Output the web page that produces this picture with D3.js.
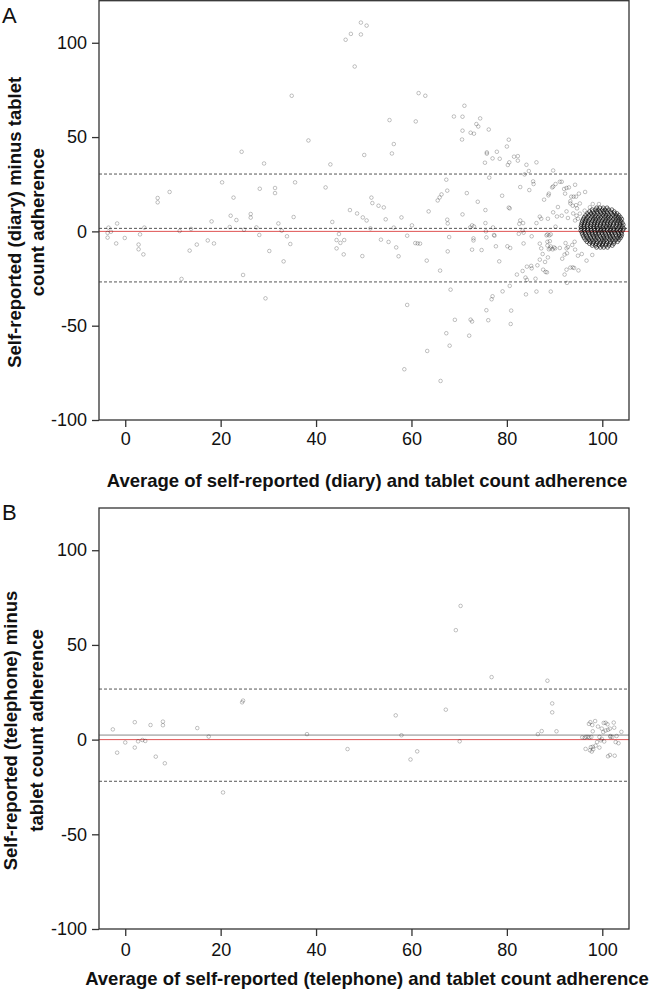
<!DOCTYPE html>
<html><head><meta charset="utf-8">
<script src="https://cdn.jsdelivr.net/npm/d3@7"></script>
<style>body{margin:0;background:#fff} svg{display:block} text{font-family:"Liberation Sans",Arial,Helvetica,sans-serif}</style>
</head><body><svg id="chart" width="650" height="990"></svg>
<script>
const xTicks = [0, 20, 40, 60, 80, 100];
const yTicks = [-100, -50, 0, 50, 100];

// Panel A: [average, difference]
const diaryPts = [
 [-3.5,2.0],[-3.0,-0.2],[-3.7,-0.8],[-3.7,-3.3],[-1.7,4.2],[-1.9,-6.4],[-0.1,-3.5],[2.8,-7.0],[2.8,-9.5],[3.1,-1.6],[3.8,-12.2],[4.0,2.0],
 [6.8,17.7],[6.8,15.4],[9.3,20.9],[11.4,0.2],[11.8,-25.2],[13.5,-10.2],[13.8,1.3],[15.0,-7.0],[17.3,-4.8],[18.6,-6.4],[18.1,5.3],[20.3,26.0],
 [21.9,2.3],[22.1,8.3],[22.7,17.9],[23.3,6.0],[24.4,42.2],[24.7,-23.1],[24.9,0.9],[26.3,9.2],[26.3,7.3],[27.5,2.1],[28.1,-1.9],[28.2,22.6],
 [29.1,36.0],[29.4,-35.5],[30.2,-10.4],[31.4,23.0],[31.4,20.3],[32.1,4.2],[32.8,0.4],[33.2,-15.9],[33.9,-2.6],[34.6,-6.7],[34.9,71.9],[35.3,7.6],
 [35.6,26.0],[38.4,48.2],[42.0,23.3],[43.0,35.5],[43.4,5.0],[44.8,-1.4],[44.3,-4.6],[45.1,-6.1],[45.9,-4.6],[44.3,-9.0],[45.8,-12.2],
 [46.2,101.6],[47.3,104.7],[49.4,104.4],[49.4,110.7],[50.6,109.1],[48.1,87.4],[61.5,73.3],[62.9,71.9],[55.4,59.0],[60.9,58.3],[56.3,46.3],[55.9,41.3],[50.1,40.5],
 [51.6,17.9],[51.8,15.0],[53.1,13.6],[54.2,12.7],[47.1,11.3],[48.6,9.5],[49.8,7.4],[50.6,5.8],[54.6,6.4],[57.9,7.4],[63.6,10.6],[60.1,3.2],[56.3,2.0],[51.4,1.6],
 [49.7,-13.1],[53.6,-4.4],[55.2,-5.6],[56.8,-8.5],[57.3,-13.2],[59.1,-2.3],[60.8,-6.2],[61.3,-6.4],[61.8,-6.5],[63.2,-15.5],[59.1,-39.0],[58.5,-73.1],[66.1,-79.3],
 [63.3,-63.4],[66.0,-20.8],[67.6,-10.6],[67.9,-3.0],[68.2,-30.9],[67.3,-54.0],[68.0,-60.6],[69.1,-46.9],[72.1,-55.3],[72.4,-46.8],[72.7,-47.8],
 [67.3,27.4],[67.5,21.6],[66.3,19.6],[65.9,18.0],[65.5,16.4],[71.6,20.3],[73.9,15.7],[67.5,6.2],[67.6,4.2],[70.7,9.0],[72.3,2.1],[72.7,3.2],[73.1,2.6],
 [75.5,4.4],[75.5,11.3],[77.1,2.1],[79.0,18.9],[76.3,28.5],
 [71.1,66.6],[68.9,60.9],[70.7,60.8],[74.4,59.9],[73.6,56.9],[74.0,55.6],[76.2,54.0],[70.7,53.4],[72.4,52.3],[73.1,51.8],[70.6,48.7],[75.8,41.9],[75.8,41.2],
 [77.9,42.2],[77.0,38.7],[78.5,38.5],[75.4,36.4],
 [75.7,-41.8],[76.1,-47.1],[77.0,-34.4],[76.8,-36.0],[79.1,-31.8],
 [73.0,-4.8],[72.7,-9.7],[74.7,-9.9],[75.7,-3.2],[75.6,0.0],[77.4,-2.3],[77.7,-7.9],[78.4,-15.9],[80.1,-7.9],[80.7,-8.8],[73.0,-3.7],[77.3,-1.9],
 [82.5,-1.3],[83.5,-0.7],[85.2,-2.6],[88.3,-2.1],[88.9,-2.1],[83.5,-6.4],
 [80.4,48.6],[80.0,45.0],[81.5,39.6],[82.3,39.9],[82.3,37.5],[80.5,36.6],[80.2,35.2],[86.2,36.6],[84.1,35.3],[84.6,32.0],[83.7,30.2],[89.7,32.3],
 [82.8,23.5],[85.5,26.5],[85.6,25.1],[84.7,21.9],[80.4,12.6],[80.6,12.2],[82.8,5.8],[83.4,4.4],[86.2,4.4],[86.9,7.8],[87.2,6.7],[88.6,6.7],
 [87.8,16.8],[88.7,19.1],[88.8,20.0],[89.5,23.3],[89.7,23.8],[90.2,25.1],[91.1,26.3],[91.5,26.3],[90.7,12.9],[89.7,10.1],[90.5,7.9],
 [92.0,22.5],[92.5,23.0],[93.0,23.3],[92.2,20.0],[94.3,24.7],[96.4,20.9],[93.5,18.4],[94.0,18.4],[94.5,18.4],[95.1,20.0],[93.3,16.0],[93.3,14.8],
 [93.8,13.6],[94.5,13.9],[94.7,12.2],[95.3,14.8],[92.5,10.6],[93.9,9.5],[91.5,8.3],[92.8,7.1],[94.6,8.3],[95.3,9.4],[96.3,11.0],[97.4,12.8],
 [98.0,14.5],[99.3,14.5],[94.3,5.8],[94.9,6.7],[90.2,2.5],[82.6,4.0],[83.3,0.5],
 [80.8,-49.1],[80.9,-42.0],[80.6,-28.9],[84.0,-33.4],[86.2,-31.9],[89.2,-31.9],[82.1,-22.9],[83.3,-21.0],[83.9,-24.5],[84.2,-25.7],[86.0,-25.1],
 [84.2,-18.7],[85.1,-18.3],[85.2,-19.6],[86.4,-18.0],[86.9,-15.0],[87.6,-20.3],[88.1,-21.5],[88.4,-21.7],[88.0,-16.2],[88.6,-13.8],
 [86.9,-6.5],[87.2,-9.0],[87.5,-12.0],[88.5,-7.5],[88.8,-9.5],[89.1,-9.0],[89.2,-8.0],[89.6,-9.5],[89.9,-8.5],[90.1,-9.0],[88.5,-1.6],[89.2,-1.6],[88.5,-5.5],[89.0,-5.2],
 [91.1,-8.8],[91.6,-14.5],[92.1,-12.3],[92.6,-11.6],[92.3,-6.2],[92.5,-9.0],[92.8,-8.3],
 [92.1,-22.9],[92.5,-20.3],[93.3,-19.2],[93.8,-19.1],[94.1,-19.4],[95.0,-20.7],[92.6,-27.3],
 [93.7,-7.2],[94.2,-5.5],[94.9,-12.9],[95.7,-12.0],[96.7,-15.5],[97.9,-12.5],[94.3,-9.7]
];

// Panel A dense cluster near 100: [difference, [averages...]]
const diaryBlobRows = [
 [12.5,[98.8,99.5,100.2,101.0]],
 [11.5,[97.9,98.6,99.2,100.0,100.6,101.3,102.0]],
 [10.5,[97.3,98.0,98.9,99.5,100.3,100.9,101.7,102.5]],
 [9.5,[96.9,97.6,98.3,99.0,99.8,100.4,101.1,101.9,102.6,103.1]],
 [8.5,[96.5,97.2,98.0,98.6,99.4,100.1,100.8,101.4,102.2,102.9,103.5]],
 [7.5,[96.2,96.9,97.7,98.4,99.1,99.7,100.5,101.2,101.8,102.6,103.3,103.8]],
 [6.5,[96.0,96.6,97.4,98.1,98.7,99.4,100.2,100.8,101.5,102.3,102.9,103.6,104.1]],
 [5.5,[95.8,96.5,97.1,97.9,98.5,99.2,99.9,100.6,101.2,101.9,102.7,103.3,103.9]],
 [4.5,[95.7,96.3,97.0,97.6,98.4,99.0,99.7,100.3,101.0,101.7,102.4,103.0,103.7,104.2]],
 [3.5,[95.6,96.2,96.9,97.7,98.3,98.9,99.6,100.4,101.1,101.6,102.3,103.1,103.8,104.4]],
 [2.5,[95.5,96.1,96.8,97.5,98.2,98.8,99.5,100.1,100.8,101.5,102.1,102.9,103.5,104.2]],
 [1.5,[95.6,96.3,97.0,97.6,98.3,99.1,99.8,100.4,101.1,101.8,102.5,103.2,103.9,104.5]],
 [0.5,[95.5,96.2,96.9,97.7,98.4,99.0,99.6,100.3,101.0,101.6,102.4,103.0,103.7,104.3]],
 [-0.5,[95.7,96.4,97.1,97.8,98.5,99.3,99.9,100.5,101.3,101.9,102.6,103.3,104.0]],
 [-1.5,[95.8,96.5,97.3,97.9,98.6,99.2,100.0,100.7,101.4,102.0,102.8,103.5,104.1]],
 [-2.5,[96.0,96.7,97.4,98.2,98.8,99.5,100.2,100.9,101.6,102.2,102.9,103.6,104.0]],
 [-3.5,[96.2,96.9,97.6,98.3,99.0,99.8,100.4,101.0,101.8,102.5,103.2,103.8]],
 [-4.5,[96.5,97.2,97.9,98.6,99.3,100.0,100.7,101.5,102.1,102.8,103.5]],
 [-5.5,[96.8,97.5,98.2,98.9,99.7,100.3,101.0,101.7,102.5,103.2]],
 [-6.5,[97.3,98.0,98.7,99.5,100.1,100.8,101.6,102.4]],
 [-7.5,[97.9,98.6,99.3,100.0,100.7,101.4,102.1]],
 [-8.5,[98.8,99.6,100.3,101.1]]
];
const diaryLines = [30.4, 1.6, -26.8]; // upper LoA, mean, lower LoA

// Panel B
const phonePts = [
 [-2.6,5.4],[-1.7,-6.9],[0.0,-1.5],[2.0,9.2],[2.0,-4.2],[2.7,-0.9],[3.6,-0.2],[4.2,-0.7],[5.3,7.7],[6.4,-9.0],[7.9,9.5],[7.9,7.6],[8.3,-12.5],
 [15.1,6.1],[17.5,1.6],[20.5,-27.9],[24.5,19.7],[24.7,20.6],[38.1,2.9],[46.6,-5.0],[56.7,12.8],[57.9,2.3],[59.8,-10.5],[61.2,-6.2],[67.2,15.8],
 [69.3,57.8],[70.3,70.6],[70.1,-0.9],[76.8,33.0],[86.5,2.9],[87.3,4.5],[88.5,31.1],[89.5,19.1],[89.5,14.4],[90.4,4.4],
 [95.8,1.2],[96.3,1.0],[96.6,1.4],[97.0,1.4],[97.3,1.1],[97.7,1.4],[97.2,8.3],[97.5,9.2],[97.9,7.7],[98.5,9.8],[98.0,4.4],[99.1,6.9],[99.9,5.8],
 [100.3,8.8],[100.7,8.9],[101.1,8.1],[100.2,4.0],[100.7,4.8],[101.2,5.2],[101.6,5.8],[102.4,9.0],[102.5,6.3],[101.7,1.9],[102.1,1.4],[103.0,1.9],
 [104.0,4.1],[99.4,1.4],[99.7,-0.4],[98.9,-1.3],[98.6,-3.2],[98.1,-5.1],[97.6,-4.0],[97.4,-5.6],[97.8,-6.3],[99.4,-4.2],[99.9,0.4],[101.7,1.4],
 [102.8,-1.3],[103.4,-1.9],[101.2,-8.8],[101.6,-8.1],[102.6,-8.5],[96.5,-4.9],[100.4,-1.0],[98.0,-3.8]
];
const phoneLines = [26.7, 2.4, -22.0];

const xTitles = ["Average of self-reported (diary) and tablet count adherence",
                 "Average of self-reported (telephone) and tablet count adherence"];
const yTitles = [["Self-reported (diary) minus tablet","count adherence"],
                 ["Self-reported (telephone) minus","tablet count adherence"]];
const panelLabels = ["A","B"];

const svg = d3.select("#chart");
const L = 99, R = 629;

function blobToPoints(rows){
  const out=[];
  rows.forEach(([yv,xs])=>xs.forEach(xv=>out.push([xv,yv])));
  return out;
}

const panels = [
  {top:0.7, bottom:420, pts: diaryPts, blob: blobToPoints(diaryBlobRows), lines: diaryLines, meanDashed:true,
   tickBase:445, titleBase:487, yT1:21, yT2:43.5, labelY:22.7, idx:0},
  {top:508, bottom:929, pts: phonePts, blob: [], lines: phoneLines, meanDashed:false,
   tickBase:956, titleBase:985, yT1:17, yT2:42.5, labelY:520, idx:1}
];

panels.forEach(p=>{
  const x = d3.scaleLinear().domain([-5.5,105.6]).range([L,R]);
  const y = d3.scaleLinear().domain([-100,122.3]).range([p.bottom,p.top]);
  const g = svg.append("g");

  // zero line (red)
  g.append("line").attr("x1",L).attr("x2",R).attr("y1",y(0)).attr("y2",y(0))
    .attr("stroke","#e05555").attr("stroke-width",1);
  // limits of agreement
  [p.lines[0],p.lines[2]].forEach(v=>{
    g.append("line").attr("x1",L).attr("x2",R).attr("y1",y(v)).attr("y2",y(v))
      .attr("stroke","#555").attr("stroke-width",1).attr("stroke-dasharray","3,2");
  });
  // mean
  g.append("line").attr("x1",L).attr("x2",R).attr("y1",y(p.lines[1])).attr("y2",y(p.lines[1]))
    .attr("stroke", p.meanDashed ? "#555" : "#888").attr("stroke-width",1)
    .attr("stroke-dasharray", p.meanDashed ? "3,2" : null);

  // points
  g.append("g").selectAll("circle").data(p.pts).join("circle")
    .attr("cx",d=>x(d[0])).attr("cy",d=>y(d[1])).attr("r",1.8)
    .attr("fill","none").attr("stroke","#000").attr("stroke-opacity",0.3).attr("stroke-width",0.8);
  // dense cluster
  g.append("g").selectAll("circle").data(p.blob).join("circle")
    .attr("cx",d=>x(d[0])).attr("cy",d=>y(d[1])).attr("r",1.9)
    .attr("fill","none").attr("stroke","#000").attr("stroke-opacity",0.62).attr("stroke-width",0.9);

  // frame
  g.append("rect").attr("x",L).attr("y",p.top).attr("width",R-L).attr("height",p.bottom-p.top)
    .attr("fill","none").attr("stroke","#333").attr("stroke-width",1.3);

  // axes
  const ya = g.append("g").attr("transform",`translate(${L},0)`)
    .call(d3.axisLeft(y).tickValues(yTicks).tickSize(7).tickPadding(5).tickFormat(d=>String(d)));
  ya.select(".domain").remove();
  ya.selectAll("line").attr("stroke","#333").attr("stroke-width",1.3);
  ya.selectAll("text").attr("font-size",18).attr("fill","#111").attr("font-family",null);

  const xa = g.append("g").attr("transform",`translate(0,${p.bottom})`)
    .call(d3.axisBottom(x).tickValues(xTicks).tickSize(7).tickPadding(6).tickFormat(d=>String(d)));
  xa.select(".domain").remove();
  xa.selectAll("line").attr("stroke","#333").attr("stroke-width",1.3);
  xa.selectAll("text").attr("font-size",18).attr("fill","#111").attr("font-family",null)
    .attr("dy",null).attr("y",p.tickBase-p.bottom);

  // x title
  g.append("text").attr("x",(L+R)/2+3).attr("y",p.titleBase).attr("text-anchor","middle")
    .attr("font-size",18.5).attr("font-weight","bold").attr("fill","#111").text(xTitles[p.idx]);

  // y title (two lines)
  const cy = (p.top+p.bottom)/2+12;
  [p.yT1,p.yT2].forEach((bx,i)=>{
    g.append("text").attr("transform",`translate(${bx},${cy}) rotate(-90)`).attr("text-anchor","middle")
      .attr("font-size",18.5).attr("font-weight","bold").attr("fill","#111").text(yTitles[p.idx][i]);
  });

  // panel label
  svg.append("text").attr("x",2).attr("y",p.labelY).attr("font-size",22).attr("fill","#111").text(panelLabels[p.idx]);
});
</script>
</body></html>
